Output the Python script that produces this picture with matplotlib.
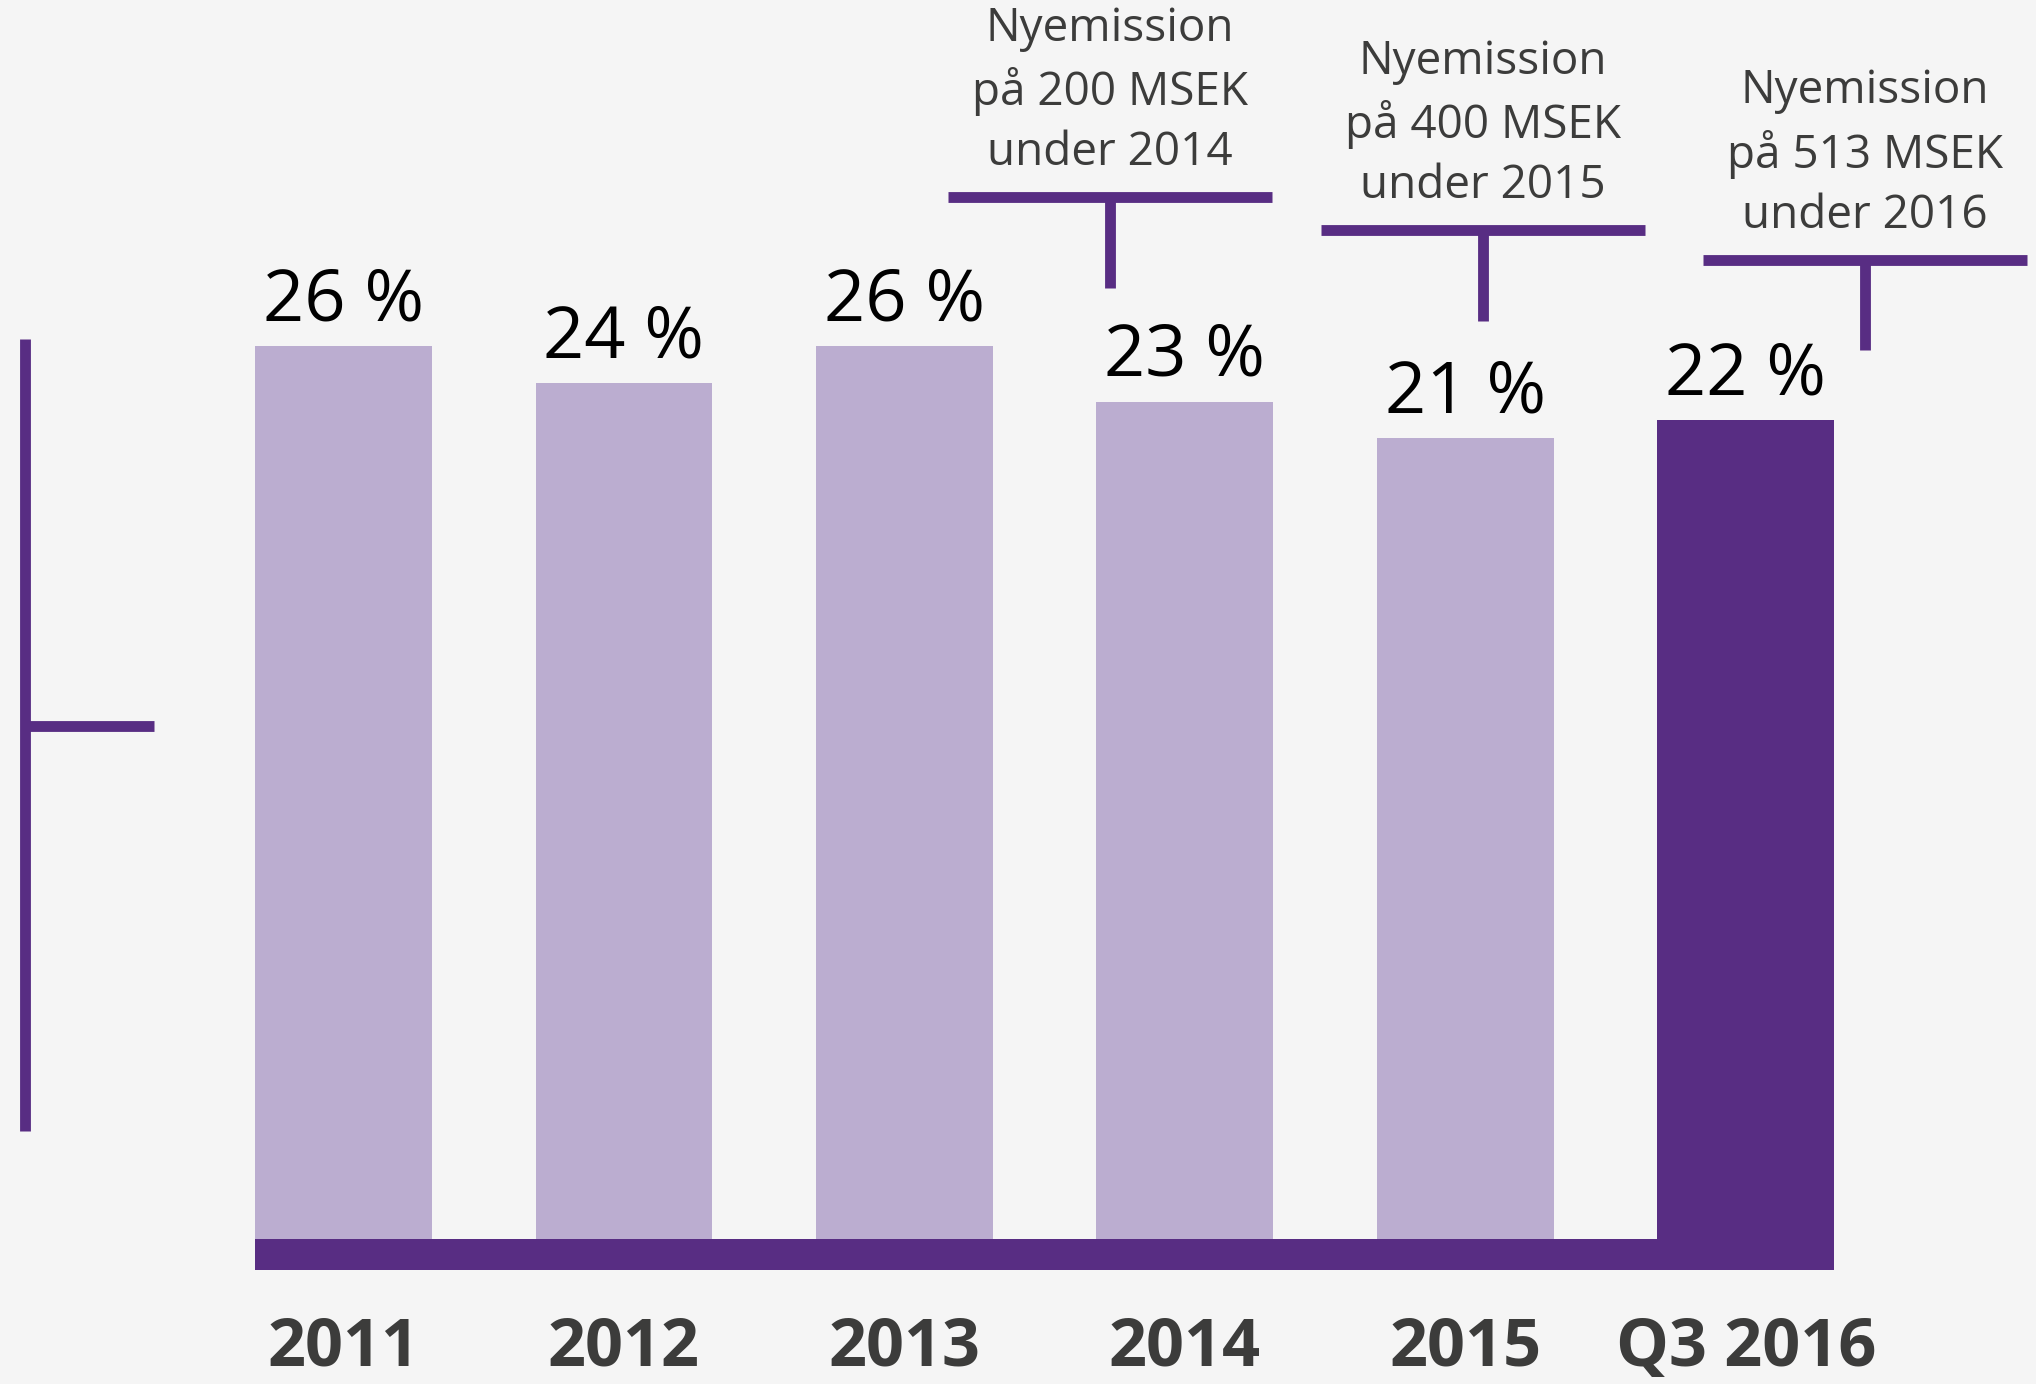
import numpy as np
import matplotlib.pyplot as plt

kategorier = ['2011', '2012', '2013', '2014', '2015', 'Q3 2016']
andel = [26, 24, 26, 23, 21, 22]
etiketter = ['26 %', '24 %', '26 %', '23 %', '21 %', '22 %']
nyemissioner = ['Nyemission\npå 200 MSEK\nunder 2014',
                'Nyemission\npå 400 MSEK\nunder 2015',
                'Nyemission\npå 513 MSEK\nunder 2016']

ljus = '#BBADD0'
mork = '#582D83'
text_farg = '#3C3C3B'
bg = '#F5F5F5'

plt.rcParams['font.family'] = ['Open Sans', 'DejaVu Sans']

fig = plt.figure(figsize=(20.36, 13.84), dpi=100, facecolor=bg)
ax = fig.add_axes([0, 0, 1, 1])
ax.set_facecolor(bg)
ax.axis('off')
ax.set_xlim(-1.2245, 6.035)
ax.set_ylim(-30.29, 44.78)

x = np.arange(len(kategorier))
bas = -22.4
band = -24.09
w = 0.63

farger = [ljus] * (len(x) - 1) + [mork]
botten = [bas] * (len(x) - 1) + [band]
hojd = [v - b for v, b in zip(andel, botten)]
ax.bar(x, hojd, bottom=botten, width=w, color=farger, zorder=2)

# lila baslinje under staplarna
ax.fill_between([x[0] - w / 2, x[-1] + w / 2], band, bas, color=mork, lw=0, zorder=3)

for xi, v, t in zip(x, andel, etiketter):
    ax.text(xi, v + 1.4, t, ha='center', va='baseline', fontsize=52, color='black')

for xi, k in zip(x, kategorier):
    ax.text(xi, -29.3, k, ha='center', va='baseline', fontsize=48,
            fontweight='bold', color=text_farg)

# vänster "axel"
lw = 7.8
ax.plot([-1.134, -1.134], [-16.55, 26.4], color=mork, lw=lw, solid_capstyle='butt')
ax.plot([-1.134, -0.674], [5.42, 5.42], color=mork, lw=lw, solid_capstyle='butt')

# nyemissioner med T-formade markeringar
ann_x = [2.734, 4.063, 5.424]
ann_y = [34.08, 32.32, 30.70]
for ax_x, ay, t in zip(ann_x, ann_y, nyemissioner):
    ax.plot([ax_x - 0.578, ax_x + 0.578], [ay, ay], color=mork, lw=lw, solid_capstyle='butt')
    ax.plot([ax_x, ax_x], [ay, ay - 4.93], color=mork, lw=lw, solid_capstyle='butt')
    ax.text(ax_x, ay + 5.75, t, ha='center', va='center', fontsize=33,
            color=text_farg, linespacing=1.4)

fig.savefig('out.png', dpi=100, facecolor=bg)
